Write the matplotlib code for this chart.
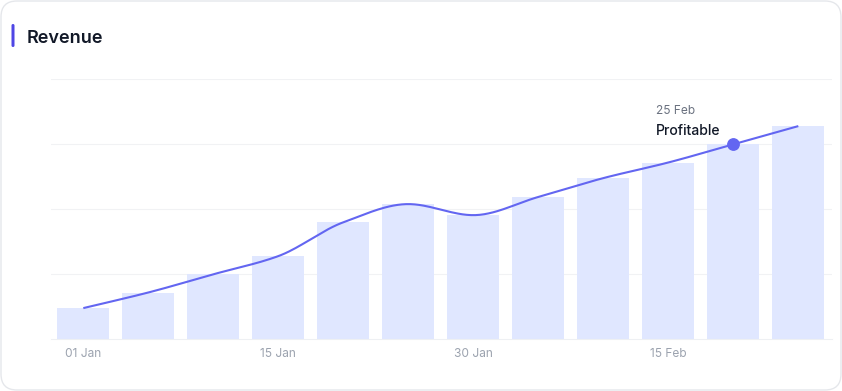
import numpy as np
import matplotlib
matplotlib.use("Agg")
import matplotlib.pyplot as plt
from matplotlib.patches import FancyBboxPatch

plt.rcParams['font.family'] = ['Inter', 'DejaVu Sans']

# data
revenue = [48, 72, 100, 128, 180, 208, 191, 219, 248, 272, 300, 328]
tick_pos = [0, 3, 6, 9]
tick_labels = ['01 Jan', '15 Jan', '30 Jan', '15 Feb']
hl_idx = 10
hl_date = '25 Feb'
hl_text = 'Profitable'

bar_color = '#e0e7ff'
line_color = '#6366f1'


def monotone(x, y, n=30):
    # monotone cubic (Fritsch-Carlson) for a smooth line through the points
    x = np.asarray(x, float)
    y = np.asarray(y, float)
    h = np.diff(x)
    d = np.diff(y) / h
    m = np.zeros_like(y)
    m[0], m[-1] = d[0], d[-1]
    for i in range(1, len(y) - 1):
        if d[i - 1] * d[i] <= 0:
            m[i] = 0
        else:
            w1 = 2 * h[i] + h[i - 1]
            w2 = h[i] + 2 * h[i - 1]
            m[i] = (w1 + w2) / (w1 / d[i - 1] + w2 / d[i])
    xs, ys = [], []
    for i in range(len(x) - 1):
        t = np.linspace(0, 1, n, endpoint=False)
        h00 = 2 * t**3 - 3 * t**2 + 1
        h10 = t**3 - 2 * t**2 + t
        h01 = -2 * t**3 + 3 * t**2
        h11 = t**3 - t**2
        xs.append(x[i] + t * h[i])
        ys.append(h00 * y[i] + h10 * h[i] * m[i] + h01 * y[i + 1] + h11 * h[i] * m[i + 1])
    xs.append([x[-1]])
    ys.append([y[-1]])
    return np.concatenate(xs), np.concatenate(ys)


W, H = 842, 391
fig = plt.figure(figsize=(W / 100, H / 100), dpi=100)

# card background in pixel coordinates
bg = fig.add_axes([0, 0, 1, 1])
bg.set_xlim(0, W)
bg.set_ylim(H, 0)
bg.axis('off')
card = FancyBboxPatch((1, 1), W - 2, H - 2, boxstyle='round,pad=0,rounding_size=16',
                      facecolor='white', edgecolor='#e5e7eb', linewidth=1)
bg.add_patch(card)
accent = FancyBboxPatch((11.5, 24), 3, 23, boxstyle='round,pad=0,rounding_size=1.5',
                        facecolor='#4f46e5', edgecolor='none')
bg.add_patch(accent)
bg.text(27, 38.5, 'Revenue', fontsize=13, fontweight='semibold', color='#111827',
        va='center', ha='left')

# chart area
ax = fig.add_axes([51 / W, (H - 339.3) / H, (832 - 51) / W, (339.3 - 79.3) / H])
x = np.arange(len(revenue))
ax.bar(x, revenue, width=0.8, color=bar_color, zorder=2)
lx, ly = monotone(x, revenue)
ax.plot(lx, ly, color=line_color, linewidth=1.5, zorder=3, solid_capstyle='butt')
ax.plot(x[hl_idx], revenue[hl_idx], 'o', color=line_color, markersize=8.2, zorder=4)
ax.annotate(hl_date, (x[hl_idx], revenue[hl_idx]), xytext=(-77, 33),
            textcoords='offset pixels', fontsize=8.6, color='#6b7280', va='center', ha='left')
ax.annotate(hl_text, (x[hl_idx], revenue[hl_idx]), xytext=(-77, 13),
            textcoords='offset pixels', fontsize=10.1, fontweight='medium', color='#111827',
            va='center', ha='left')

ax.set_xlim(-0.497, 11.518)
ax.set_ylim(0, 400)
ax.set_yticks([100, 200, 300, 400])
ax.set_yticklabels([])
ax.tick_params(axis='y', length=0)
ax.grid(axis='y', color='#f1f2f4', linewidth=0.8, zorder=0)
ax.set_xticks(tick_pos)
ax.set_xticklabels(tick_labels, fontsize=8.6, color='#9ca3af')
ax.tick_params(axis='x', length=0, pad=6)
for s in ['top', 'right', 'left']:
    ax.spines[s].set_visible(False)
ax.spines['bottom'].set_color('#eef0f3')
ax.spines['bottom'].set_linewidth(0.8)
ax.set_facecolor('none')

fig.savefig('out.png', dpi=100)
